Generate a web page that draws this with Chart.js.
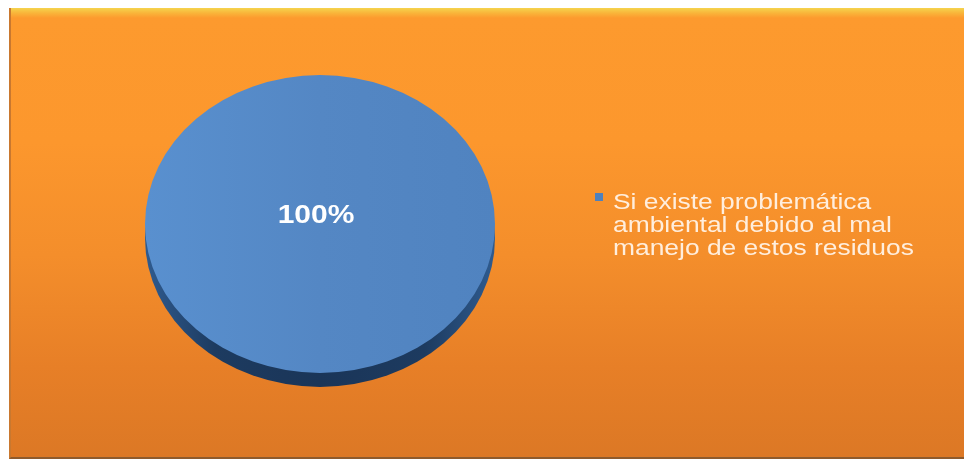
<!DOCTYPE html>
<html lang="es">
<head>
<meta charset="utf-8">
<title>Problemática ambiental</title>
<script src="https://cdn.jsdelivr.net/npm/chart.js@4/dist/chart.umd.min.js"></script>
<style>
  html, body { margin: 0; padding: 0; background: #fff; overflow: hidden; }
  #frame {
    position: absolute; left: 9px; top: 8px; width: 953px; height: 449px;
    background: linear-gradient(to bottom, #f5d44e 0px, #f9b53a 5px, #fd9a2e 10px, #fc972d 30%, #f48e2b 55%, #e77f27 80%, #dc7825 100%);
    border-left: 2px solid #c9782f;
    border-bottom: 2px solid #8e5a2c;
  }
  #chart { position: absolute; left: 0; top: 0; }
</style>
</head>
<body>
<div id="frame"></div>
<canvas id="chart" width="969" height="461"></canvas>
<script>
const categories = ['Si existe problemática ambiental debido al mal manejo de estos residuos'];
const percentages = [100];
const sliceColors = ['#4f81bd'];

// the pie is drawn as a tilted disc: squashed vertically, with a dark side wall
const TILT = 0.851;
const DEPTH = 14;
const TEXT_STRETCH = 1.2;

const tiltedPie = {
  id: 'tiltedPie',
  beforeDatasetsDraw(chart) {
    const arc = chart.getDatasetMeta(0).data[0];
    if (!arc) return;
    const { x, y, outerRadius: r } = arc;
    const ctx = chart.ctx;

    // side wall
    ctx.save();
    ctx.translate(x, y + DEPTH);
    ctx.scale(1, TILT);
    const side = ctx.createLinearGradient(-r, 0, r, 0);
    side.addColorStop(0, '#2f5b8f');
    side.addColorStop(0.2, '#1d3b60');
    side.addColorStop(0.5, '#1a3558');
    side.addColorStop(0.8, '#1d3b60');
    side.addColorStop(1, '#2f5b8f');
    ctx.beginPath();
    ctx.arc(0, 0, r, 0, Math.PI * 2);
    ctx.fillStyle = side;
    ctx.fill();
    ctx.restore();

    // top face: squash the library's own arc drawing
    ctx.save();
    ctx.translate(x, y);
    ctx.scale(1, TILT);
    ctx.translate(-x, -y);
  },
  afterDatasetsDraw(chart) {
    const arc = chart.getDatasetMeta(0).data[0];
    if (!arc) return;
    const ctx = chart.ctx;
    ctx.restore();

    // value label
    ctx.save();
    ctx.translate(arc.x - 4, arc.y - 8);
    ctx.scale(TEXT_STRETCH, 1);
    ctx.font = 'bold 25px "Liberation Sans", Arial, sans-serif';
    ctx.fillStyle = '#ffffff';
    ctx.textAlign = 'center';
    ctx.textBaseline = 'middle';
    ctx.fillText(percentages[0] + '%', 0, 0);
    ctx.restore();
  }
};

// legend with wrapped label on the right
const wrappedLegend = {
  id: 'wrappedLegend',
  afterDraw(chart) {
    const ctx = chart.ctx;
    const left = 595, top = 193, lineH = 23, maxW = 312;
    ctx.save();
    ctx.font = '22px "Liberation Sans", Arial, sans-serif';
    categories.forEach((label, i) => {
      ctx.fillStyle = sliceColors[i];
      ctx.fillRect(left, top, 8, 8);

      const words = label.split(' ');
      const lines = [];
      let cur = '';
      words.forEach(w => {
        const test = cur ? cur + ' ' + w : w;
        if (ctx.measureText(test).width * TEXT_STRETCH > maxW && cur) {
          lines.push(cur);
          cur = w;
        } else {
          cur = test;
        }
      });
      if (cur) lines.push(cur);

      ctx.fillStyle = '#ffeedd';
      ctx.textBaseline = 'alphabetic';
      lines.forEach((ln, j) => {
        ctx.save();
        ctx.translate(left + 18, top + 16 + j * lineH);
        ctx.scale(TEXT_STRETCH, 1);
        ctx.fillText(ln, 0, 0);
        ctx.restore();
      });
    });
    ctx.restore();
  }
};

new Chart(document.getElementById('chart'), {
  type: 'pie',
  data: {
    labels: categories,
    datasets: [{
      data: percentages,
      backgroundColor: ctx => {
        const c = ctx.chart.ctx;
        const g = c.createLinearGradient(145, 0, 495, 0);
        g.addColorStop(0, '#5990cf');
        g.addColorStop(0.5, '#5487c4');
        g.addColorStop(1, '#5083c0');
        return g;
      },
      borderWidth: 0,
      clip: false
    }]
  },
  options: {
    responsive: false,
    animation: false,
    layout: { padding: { left: 145, right: 474, top: 49, bottom: 62 } },
    plugins: {
      legend: { display: false },
      tooltip: { enabled: false }
    }
  },
  plugins: [tiltedPie, wrappedLegend]
});
</script>
</body>
</html>
